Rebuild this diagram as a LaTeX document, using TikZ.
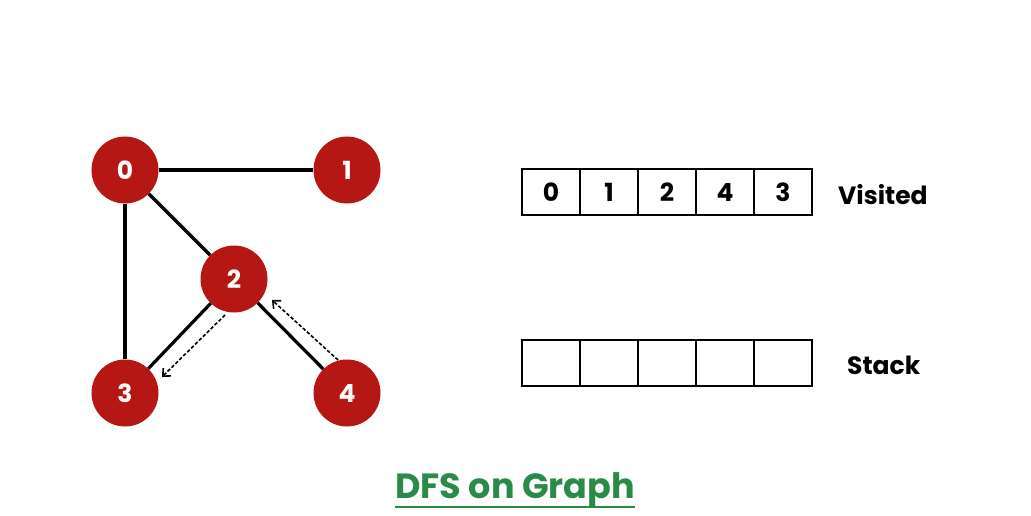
\documentclass[tikz,border=0pt]{standalone}
\usepackage{fontspec}
\setmainfont{Poppins}
\usetikzlibrary{arrows.meta}
\definecolor{nodered}{RGB}{181,24,20}
\definecolor{titlegreen}{HTML}{2A8A48}
\begin{document}
\begin{tikzpicture}[x=1pt,y=-1pt,
  vtx/.style={circle,fill=nodered,minimum size=67pt,inner sep=0pt,text=white,font=\bfseries\fontsize{25}{25}\selectfont},
  edge/.style={line width=3.2pt,black},
  trav/.style={dash pattern=on 3.5pt off 2pt,line width=1.6pt,black,-{Straight Barb[length=6pt,width=11pt,line width=1.6pt]}},
  cell/.style={draw,line width=2pt,minimum width=58pt,minimum height=46pt,inner sep=0pt,font=\bfseries\fontsize{25}{25}\selectfont},
  lbl/.style={anchor=west,font=\bfseries\fontsize{25}{25}\selectfont,inner sep=0pt}]
\useasboundingbox[fill=white] (0,0) rectangle (1031,516);
% vertices
\node[vtx] (n0) at (125,170) {0};
\node[vtx] (n1) at (347,170) {1};
\node[vtx] (n2) at (234,279) {2};
\node[vtx] (n3) at (125,393) {3};
\node[vtx] (n4) at (347,393) {4};
% edges
\draw[edge] (n0) -- (n1);
\draw[edge] (n0) -- (n3);
\draw[edge] (n0) -- (n2);
\draw[edge] (n2) -- (n3);
\draw[edge] (n2) -- (n4);
% traversal arrows
\coordinate (a1s) at (225,315);
\coordinate (a1e) at (162,377);
\coordinate (a2s) at (338,360);
\coordinate (a2e) at (272,300);
\draw[trav] (a1s) -- (a1e);
\draw[trav] (a2s) -- (a2e);
% visited array
\node[cell] (v0) at (551,192) {0};
\node[cell] (v1) at (609,192) {1};
\node[cell] (v2) at (667,192) {2};
\node[cell] (v3) at (725,192) {4};
\node[cell] (v4) at (783,192) {3};
\node[lbl] (vl) at (838,195) {Visited};
% stack array
\node[cell] (s0) at (551,362.5) {};
\node[cell] (s1) at (609,362.5) {};
\node[cell] (s2) at (667,362.5) {};
\node[cell] (s3) at (725,362.5) {};
\node[cell] (s4) at (783,362.5) {};
\node[lbl] (sl) at (847,365) {Stack};
% title
\node[text=titlegreen,font=\bfseries\fontsize{35}{35}\selectfont,inner sep=0pt,anchor=base] (title) at (515,498) {DFS on Graph};
\draw[titlegreen,line width=1.8pt] ([yshift=-9pt]title.base west) -- ([yshift=-9pt]title.base east);
\end{tikzpicture}
\end{document}
